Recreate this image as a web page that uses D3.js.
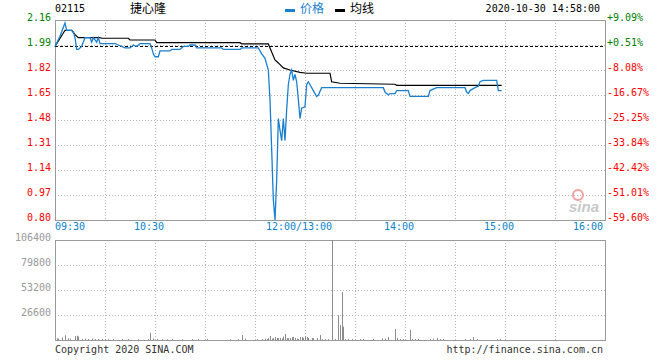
<!DOCTYPE html>
<html>
<head>
<meta charset="utf-8">
<script src="https://cdn.jsdelivr.net/npm/d3@7"></script>
<style>
  body { margin: 0; background: #fff; }
  svg { display: block; }
  text { font-family: "DejaVu Sans Mono", monospace; font-size: 10px; }
</style>
</head>
<body>
<svg id="chart" width="660" height="360"></svg>
<script>
//// DATA

const stockCode = "02115";
const stockName = "捷心隆";
const stamp = "2020-10-30 14:58:00";
const prevClose = 1.98;

const priceTicks = [2.16, 1.99, 1.82, 1.65, 1.48, 1.31, 1.14, 0.97, 0.80];
const pctTicks = ["+9.09%", "+0.51%", "-8.08%", "-16.67%", "-25.25%", "-33.84%", "-42.42%", "-51.01%", "-59.60%"];
const volTicks = [106400, 79800, 53200, 26600];
const timeTicks = ["09:30", "10:30", "12:00/13:00", "14:00", "15:00", "16:00"];

// price line [time, price]
const priceData = [
    ["09:30", 1.98], ["09:33", 2.05], ["09:35", 2.11], ["09:36", 2.14], ["09:37", 2.09],
    ["09:40", 2.09], ["09:41", 2.08], ["09:42", 2.04], ["09:43", 1.96], ["09:44", 1.96],
    ["09:46", 1.98], ["09:47", 2.01], ["09:48", 2.04], ["09:51", 2.04], ["09:52", 2.01],
    ["09:53", 2.04], ["09:55", 2.01], ["09:56", 2.04], ["09:57", 2.00], ["10:06", 2.00],
    ["10:08", 1.99], ["10:12", 1.97], ["10:15", 1.97], ["10:17", 1.99], ["10:19", 1.98],
    ["10:21", 2.00], ["10:27", 2.00], ["10:28", 1.97], ["10:29", 1.93], ["10:30", 1.91],
    ["10:32", 1.91], ["10:33", 1.95], ["10:39", 1.95], ["10:40", 1.96], ["10:45", 1.96],
    ["10:47", 1.98], ["10:50", 1.98], ["10:51", 1.99], ["10:54", 1.99], ["10:55", 1.97],
    ["11:10", 1.97], ["11:11", 1.96], ["11:21", 1.96], ["11:22", 1.97], ["11:32", 1.97],
    ["11:34", 1.93], ["11:36", 1.90], ["11:38", 1.82], ["11:39", 1.62], ["11:40", 1.28],
    ["11:41", 0.94], ["11:42", 0.80], ["11:43", 1.07], ["11:44", 1.49], ["11:45", 1.41],
    ["11:46", 1.34], ["11:47", 1.49], ["11:48", 1.34], ["11:49", 1.55], ["11:50", 1.72],
    ["11:51", 1.79], ["11:52", 1.82], ["11:53", 1.75], ["11:54", 1.79], ["11:55", 1.74],
    ["11:56", 1.62], ["11:57", 1.49], ["11:58", 1.56], ["12:00", 1.57], ["13:01", 1.72],
    ["13:02", 1.74], ["13:03", 1.72], ["13:05", 1.68], ["13:07", 1.64], ["13:08", 1.65],
    ["13:10", 1.70], ["13:47", 1.70], ["13:48", 1.67], ["13:50", 1.65], ["13:51", 1.66],
    ["13:54", 1.66], ["13:55", 1.68], ["14:02", 1.68], ["14:03", 1.64], ["14:14", 1.64],
    ["14:15", 1.68], ["14:19", 1.70], ["14:36", 1.70], ["14:37", 1.67], ["14:38", 1.66],
    ["14:39", 1.68], ["14:42", 1.70], ["14:44", 1.71], ["14:45", 1.74], ["14:47", 1.75],
    ["14:55", 1.75], ["14:56", 1.68], ["14:58", 1.68]
];

// average line [time, price]
const avgData = [
    ["09:30", 1.980], ["09:36", 2.090], ["09:40", 2.090], ["09:42", 2.060], ["09:44", 2.040],
    ["09:57", 2.040], ["09:58", 2.036], ["10:14", 2.036], ["10:15", 2.024], ["10:30", 2.024],
    ["10:31", 2.006], ["11:21", 2.006], ["11:22", 1.998], ["11:38", 1.998], ["11:39", 1.970],
    ["11:42", 1.888], ["11:44", 1.868], ["11:47", 1.834], ["11:51", 1.820], ["11:57", 1.804],
    ["13:01", 1.798], ["13:15", 1.798], ["13:16", 1.740], ["13:21", 1.730], ["13:54", 1.723],
    ["13:55", 1.716], ["14:58", 1.716]
];

// volume [time, shares]
const volData = [
    ["09:31", 1800], ["09:32", 1500], ["09:34", 2800], ["09:36", 5000], ["09:38", 2000],
    ["09:39", 1500], ["09:42", 4200], ["09:43", 4500], ["09:44", 3800], ["09:46", 1200],
    ["09:48", 1500], ["09:50", 1000], ["09:52", 1400], ["09:54", 1000], ["09:56", 1200],
    ["09:58", 1000], ["10:00", 1100], ["10:02", 800], ["10:05", 1000], ["10:10", 900],
    ["10:14", 1000], ["10:20", 800], ["10:26", 900], ["10:27", 7800], ["10:29", 1600],
    ["10:31", 1000], ["10:34", 900], ["10:37", 800], ["10:40", 1000], ["10:46", 800],
    ["10:52", 900], ["10:56", 1000], ["11:01", 1200], ["11:15", 800], ["11:20", 900],
    ["11:22", 5300], ["11:24", 1500], ["11:31", 800], ["11:34", 1100], ["11:36", 1300],
    ["11:37", 1000], ["11:38", 2000], ["11:39", 4200], ["11:40", 1500], ["11:41", 2000],
    ["11:42", 3200], ["11:43", 2100], ["11:44", 2100], ["11:45", 2200], ["11:46", 1800],
    ["11:47", 3700], ["11:48", 6400], ["11:49", 2100], ["11:50", 2000], ["11:51", 2200],
    ["11:52", 3200], ["11:53", 3200], ["11:54", 2100], ["11:55", 1600], ["11:56", 1000],
    ["11:57", 3200], ["11:58", 3200], ["11:59", 2100], ["12:00", 4200],
    ["13:01", 3200], ["13:02", 2100], ["13:04", 2100], ["13:05", 2000], ["13:07", 2100],
    ["13:09", 5300], ["13:10", 1000], ["13:12", 1000], ["13:14", 1100], ["13:16", 106400],
    ["13:18", 1000], ["13:20", 26300], ["13:21", 16000], ["13:22", 51000], ["13:23", 14200],
    ["13:24", 1000], ["13:26", 1000], ["13:28", 1000], ["13:33", 1000], ["13:35", 1000],
    ["13:41", 1000], ["13:46", 1600], ["13:48", 1600], ["13:50", 3200], ["13:54", 11700],
    ["13:55", 2100], ["13:57", 1000], ["13:59", 1000], ["14:03", 10600], ["14:04", 1000],
    ["14:06", 1000], ["14:08", 1000], ["14:15", 1000], ["14:17", 1500], ["14:19", 2100],
    ["14:21", 1000], ["14:23", 1000], ["14:36", 1000], ["14:39", 1000], ["14:41", 3200],
    ["14:43", 1000], ["14:55", 1000], ["14:57", 1000]
];

//// SETTINGS

const svg = d3.select("#chart");
const left = 55, right = 605;
const mainTop = 20, mainBottom = 220;
const volTop = 240, volBottom = 340;

const gridColor = "#b4b4b4";
const borderColor = "#9a9a9a";
const priceColor = "#1a7fcf";
const upColor = "#008000";
const downColor = "#ff0000";
const timeColor = "#0a82cc";

// trading minutes since 09:30, lunch break removed
function toIdx(t) {
    const [h, m] = t.split(":").map(Number);
    let v = h * 60 + m - 570;
    if (h >= 13) v -= 60;
    return v;
}

const x = d3.scaleLinear().domain([0, 330]).range([left, right]);
const y = d3.scaleLinear().domain([0.80, 2.16]).range([mainBottom, mainTop]);
const yVol = d3.scaleLinear().domain([0, 106400]).range([volBottom, volTop]);

//// DRAW

drawFrame(mainTop, mainBottom, priceTicks.map(d => y(d)));
drawFrame(volTop, volBottom, volTicks.map(d => yVol(d)));

// previous close
svg.append("line")
    .attr("x1", left).attr("x2", right)
    .attr("y1", y(prevClose)).attr("y2", y(prevClose))
    .attr("stroke", "#000").attr("stroke-dasharray", "3,2");

// left price labels
svg.append("g").selectAll("text").data(priceTicks).join("text")
    .attr("x", left - 4).attr("y", d => y(d) + 1)
    .attr("text-anchor", "end")
    .attr("fill", d => d > prevClose ? upColor : downColor)
    .text(d => d.toFixed(2));

// right pct labels
svg.append("g").selectAll("text").data(pctTicks).join("text")
    .attr("x", right + 2).attr("y", (d, i) => y(priceTicks[i]) + 1)
    .attr("fill", d => d[0] == "+" ? upColor : downColor)
    .text(d => d);

// time labels
svg.append("g").selectAll("text").data(timeTicks).join("text")
    .attr("x", (d, i) => {
        if (i == 0) return left;
        if (i == timeTicks.length - 1) return right - 2;
        return x(toIdx(d.slice(0, 5))) - 6;
    })
    .attr("y", 230)
    .attr("text-anchor", (d, i) => i == 0 ? "start" : (i == timeTicks.length - 1 ? "end" : "middle"))
    .attr("fill", timeColor)
    .text(d => d);

// volume labels
svg.append("g").selectAll("text").data(volTicks).join("text")
    .attr("x", left - 4).attr("y", d => yVol(d) + 1)
    .attr("text-anchor", "end")
    .attr("fill", "#999")
    .text(d => d);

// volume bars
svg.append("g").selectAll("rect").data(volData).join("rect")
    .attr("x", d => Math.round(x(toIdx(d[0]))) )
    .attr("width", 1)
    .attr("y", d => yVol(d[1]))
    .attr("height", d => volBottom - yVol(d[1]))
    .attr("fill", "#8c8c8c");

// average + price lines
const line = d3.line()
    .x(d => x(toIdx(d[0])))
    .y(d => y(d[1]));

svg.append("path").datum(avgData)
    .attr("d", line).attr("fill", "none")
    .attr("stroke", "#000").attr("stroke-width", 1.2);

svg.append("path").datum(priceData)
    .attr("d", line).attr("fill", "none")
    .attr("stroke", priceColor).attr("stroke-width", 1.3);

// header
svg.append("text").attr("x", left).attr("y", 12).attr("fill", "#000").text(stockCode);
svg.append("text").attr("x", 130).attr("y", 13)
    .style("font-family", "'Noto Sans CJK SC', sans-serif").style("font-size", "12px")
    .text(stockName);

const legend = [["价格", priceColor, 285], ["均线", "#000", 335]];
legend.forEach(function (item) {
    svg.append("rect").attr("x", item[2]).attr("y", 9).attr("width", 10).attr("height", 3).attr("fill", item[1]);
    svg.append("text").attr("x", item[2] + 15).attr("y", 13)
        .style("font-family", "'Noto Sans CJK SC', sans-serif").style("font-size", "12px")
        .attr("fill", item[1] == "#000" ? "#000" : priceColor)
        .text(item[0]);
});

svg.append("text").attr("x", right - 5).attr("y", 12).attr("text-anchor", "end").text(stamp);

// footer
svg.append("text").attr("x", left).attr("y", 353).attr("fill", "#333").text("Copyright 2020 SINA.COM");
svg.append("text").attr("x", right - 2).attr("y", 353).attr("text-anchor", "end").attr("fill", "#333").text("http://finance.sina.com.cn");

// watermark
svg.append("circle").attr("cx", 578).attr("cy", 195).attr("r", 5)
    .attr("fill", "none").attr("stroke", "#f4a0a0").attr("stroke-width", 2);
svg.append("text").attr("x", 569).attr("y", 212)
    .style("font-family", "Arial, 'Liberation Sans', sans-serif").style("font-size", "15px")
    .style("font-style", "italic").style("font-weight", "bold")
    .attr("fill", "#c8c8c8").text("sina");

function drawFrame(top, bottom, hLines) {
    const g = svg.append("g");
    // horizontal grid
    g.selectAll(".h").data(hLines.filter(v => v > top + 1 && v < bottom - 1)).join("line")
        .attr("x1", left).attr("x2", right)
        .attr("y1", d => d + 0.5).attr("y2", d => d + 0.5)
        .attr("stroke", gridColor).attr("stroke-dasharray", "1,2");
    // vertical grid every half hour
    g.selectAll(".v").data(d3.range(1, 11)).join("line")
        .attr("x1", d => left + d * 50 + 0.5).attr("x2", d => left + d * 50 + 0.5)
        .attr("y1", top).attr("y2", bottom)
        .attr("stroke", gridColor).attr("stroke-dasharray", "1,2");
    g.append("rect")
        .attr("x", left + 0.5).attr("y", top + 0.5)
        .attr("width", right - left).attr("height", bottom - top)
        .attr("fill", "none").attr("stroke", borderColor);
}
</script>
</body>
</html>
